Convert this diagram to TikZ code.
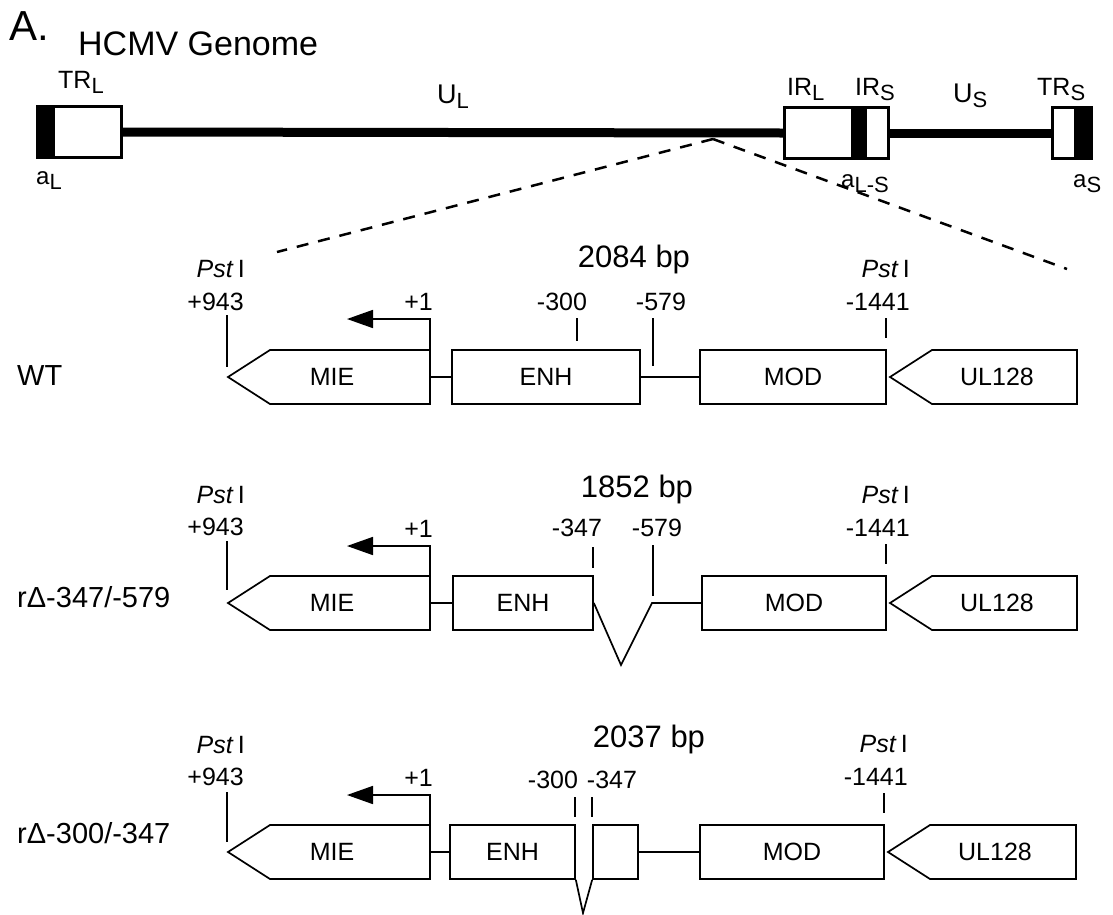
\documentclass[tikz,border=0pt]{standalone}
\usepackage{fontspec}
\setmainfont{Liberation Sans}
\usetikzlibrary{arrows.meta}
\newcommand\gsub[1]{\raisebox{-5pt}{\fontsize{22}{22}\selectfont #1}}
\newcommand\pst{\textit{Pst}\,I}
\begin{document}
\begin{tikzpicture}[x=1pt,y=1pt,
  ln/.style={line width=1.7pt},
  lbl/.style={font=\fontsize{25}{28}\selectfont, inner sep=0pt},
  bplbl/.style={font=\fontsize{31}{34}\selectfont, inner sep=0pt},
  glbl/.style={font=\fontsize{25}{28}\selectfont, inner sep=0pt},
  rowlbl/.style={font=\fontsize{29}{32}\selectfont, inner sep=0pt, anchor=base west},
  gene/.style={draw, ln, fill=white, minimum height=54pt, inner sep=0pt, font=\fontsize{25}{28}\selectfont},
  txt/.style={font=\fontsize{25}{28}\selectfont, inner sep=0pt},
  tss/.style={ln, -{Triangle[length=26pt,width=18pt]}},
  gline/.style={line width=9pt},
  dsh/.style={line width=2.5pt, dash pattern=on 12pt off 10pt}
]
\useasboundingbox (0,0) rectangle (1113,-914);

% ---------- genome ----------
\node[font=\fontsize{42}{44}\selectfont, inner sep=0pt, anchor=base west] (A) at (9,-40) {A.};
\node[font=\fontsize{34}{36}\selectfont, inner sep=0pt, anchor=base west] (hcmv) at (78,-55) {HCMV Genome};

\coordinate (split) at (713,-139);
\coordinate (dl) at (277,-252);
\coordinate (dr) at (1067,-269);
\draw[dsh] (split) -- (dl);
\draw[dsh] (split) -- (dr);

\node[draw, ln, fill=white, minimum width=83pt, minimum height=50pt, inner sep=0pt] (trl) at (79.5,-132) {};
\node[draw, ln, fill=white, minimum width=103pt, minimum height=50pt, inner sep=0pt] (irl) at (836.5,-133) {};
\node[draw, ln, fill=white, minimum width=38pt, minimum height=50pt, inner sep=0pt] (trs) at (1072,-133) {};
\draw[gline] (trl.east) -- (irl.west);
\draw[gline] (irl.east) -- (trs.west);
\fill (38,-107) rectangle (55,-157);
\fill (851,-108) rectangle (867,-158);
\fill (1074,-108) rectangle (1091,-158);
\draw[ln] (trl.north west) rectangle (trl.south east);
\draw[ln] (irl.north west) rectangle (irl.south east);
\draw[ln] (trs.north west) rectangle (trs.south east);

\node[glbl, anchor=base west] (ltrl) at (58,-88) {TR\gsub{L}};
\node[glbl, anchor=base west, font=\fontsize{27}{28}\selectfont] (lul) at (437,-103) {U\gsub{L}};
\node[glbl, anchor=base west] (lirl) at (787,-95) {IR\gsub{L}};
\node[glbl, anchor=base west] (lirs) at (855,-95) {IR\gsub{S}};
\node[glbl, anchor=base west, font=\fontsize{27}{28}\selectfont] (lus) at (953,-102) {U\gsub{S}};
\node[glbl, anchor=base west] (ltrs) at (1037,-95) {TR\gsub{S}};
\node[glbl, anchor=base west, font=\fontsize{24}{26}\selectfont] (lal) at (36,-184) {a\gsub{L}};
\node[glbl, anchor=base west, font=\fontsize{24}{26}\selectfont] (lals) at (841,-187) {a\gsub{L-S}};
\node[glbl, anchor=base west, font=\fontsize{24}{26}\selectfont] (las) at (1073,-187) {a\gsub{S}};

% ---------- WT ----------
\begin{scope}[yshift=-377pt]
\node[rowlbl] (rl1) at (17,-8) {WT};
\node[bplbl, anchor=base] (bp1) at (634,110) {2084 bp};
\node[lbl, anchor=base east] (pstl1) at (245,100) {\pst};
\node[lbl, anchor=base east] (p943a) at (244,67) {+943};
\draw[ln] (227,62) -- (227,10);
\draw[ln, fill=white] (430,27) -- (270,27) -- (228,0) -- (270,-27) -- (430,-27) -- cycle;
\node[txt] (mie1) at (332,0) {MIE};
\coordinate (mier1) at (430,0);
\coordinate (tss1) at (430,27);
\coordinate (tssend1) at (347,58);
\draw[tss] (tss1) |- (tssend1);
\node[lbl, anchor=base east] (plus1a) at (433,67) {+1};
\node[gene, minimum width=188pt] (enh1) at (546,0) {ENH};
\node[gene, minimum width=186pt] (mod1) at (793,0) {MOD};
\draw[ln] (mier1) -- (enh1.west);
\draw[ln] (enh1.east) -- (mod1.west);
\draw[ln] (577,59) -- (577,36);
\node[lbl, anchor=base] (m300a) at (562,67) {-300};
\draw[ln] (653,59) -- (653,11);
\node[lbl, anchor=base] (m579a) at (661,67) {-579};
\draw[ln] (886,59) -- (886,39);
\node[lbl, anchor=base east] (m1441a) at (910,67) {-1441};
\node[lbl, anchor=base east] (pstr1) at (910,100) {\pst};
\draw[ln, fill=white] (1077,27) -- (932,27) -- (890,0) -- (932,-27) -- (1077,-27) -- cycle;
\node[txt] (ul1) at (997,0) {UL128};
\end{scope}

% ---------- r-347/-579 ----------
\begin{scope}[yshift=-603pt]
\node[rowlbl] (rl2) at (17,-4) {rΔ-347/-579};
\node[bplbl, anchor=base] (bp2) at (637,106) {1852 bp};
\node[lbl, anchor=base east] (pstl2) at (245,100) {\pst};
\node[lbl, anchor=base east] (p943b) at (244,68) {+943};
\draw[ln] (227,62) -- (227,13);
\draw[ln, fill=white] (430,27) -- (270,27) -- (228,0) -- (270,-27) -- (430,-27) -- cycle;
\node[txt] (mie2) at (332,0) {MIE};
\coordinate (mier2) at (430,0);
\coordinate (tss2) at (430,27);
\coordinate (tssend2) at (347,57);
\draw[tss] (tss2) |- (tssend2);
\node[lbl, anchor=base east] (plus1b) at (433,66) {+1};
\node[gene, minimum width=140pt] (enh2) at (523,0) {ENH};
\node[gene, minimum width=184pt] (mod2) at (794,0) {MOD};
\draw[ln] (mier2) -- (enh2.west);
\coordinate (vb2) at (621,-62);
\coordinate (vr2) at (652,0);
\draw[ln] (enh2.east) -- (vb2) -- (vr2) -- (mod2.west);
\draw[ln] (593,56) -- (593,35);
\node[lbl, anchor=base] (m347b) at (577,67) {-347};
\draw[ln] (653,58) -- (653,7);
\node[lbl, anchor=base] (m579b) at (657,67) {-579};
\draw[ln] (886,59) -- (886,39);
\node[lbl, anchor=base east] (m1441b) at (910,67) {-1441};
\node[lbl, anchor=base east] (pstr2) at (910,100) {\pst};
\draw[ln, fill=white] (1077,27) -- (932,27) -- (890,0) -- (932,-27) -- (1077,-27) -- cycle;
\node[txt] (ul2) at (997,0) {UL128};
\end{scope}

% ---------- r-300/-347 ----------
\begin{scope}[yshift=-852pt]
\node[rowlbl] (rl3) at (17,9) {rΔ-300/-347};
\node[bplbl, anchor=base] (bp3) at (649,105) {2037 bp};
\node[lbl, anchor=base east] (pstl3) at (245,99) {\pst};
\node[lbl, anchor=base east] (p943c) at (244,67) {+943};
\draw[ln] (227,60) -- (227,10);
\draw[ln, fill=white] (430,27) -- (270,27) -- (228,0) -- (270,-27) -- (430,-27) -- cycle;
\node[txt] (mie3) at (332,0) {MIE};
\coordinate (mier3) at (430,0);
\coordinate (tss3) at (430,27);
\coordinate (tssend3) at (347,57);
\draw[tss] (tss3) |- (tssend3);
\node[lbl, anchor=base east] (plus1c) at (433,66) {+1};
\node[gene, minimum width=125pt] (enh3) at (512.5,0) {ENH};
\node[gene, minimum width=45pt] (enh3b) at (615.5,0) {};
\node[gene, minimum width=184pt] (mod3) at (792,0) {MOD};
\draw[ln] (mier3) -- (enh3.west);
\coordinate (vb3) at (583,-61);
\draw[ln] (enh3.south east) -- (vb3) -- (enh3b.south west);
\draw[ln] (enh3b.east) -- (mod3.west);
\draw[ln] (575,55) -- (575,35);
\draw[ln] (592,55) -- (592,35);
\node[lbl, anchor=base] (m300c) at (553,64) {-300};
\node[lbl, anchor=base] (m347c) at (612,64) {-347};
\draw[ln] (884,59) -- (884,39);
\node[lbl, anchor=base east] (m1441c) at (908,67) {-1441};
\node[lbl, anchor=base east] (pstr3) at (908,100) {\pst};
\draw[ln, fill=white] (1076,27) -- (930,27) -- (888,0) -- (930,-27) -- (1076,-27) -- cycle;
\node[txt] (ul3) at (995,0) {UL128};
\end{scope}
\end{tikzpicture}
\end{document}
